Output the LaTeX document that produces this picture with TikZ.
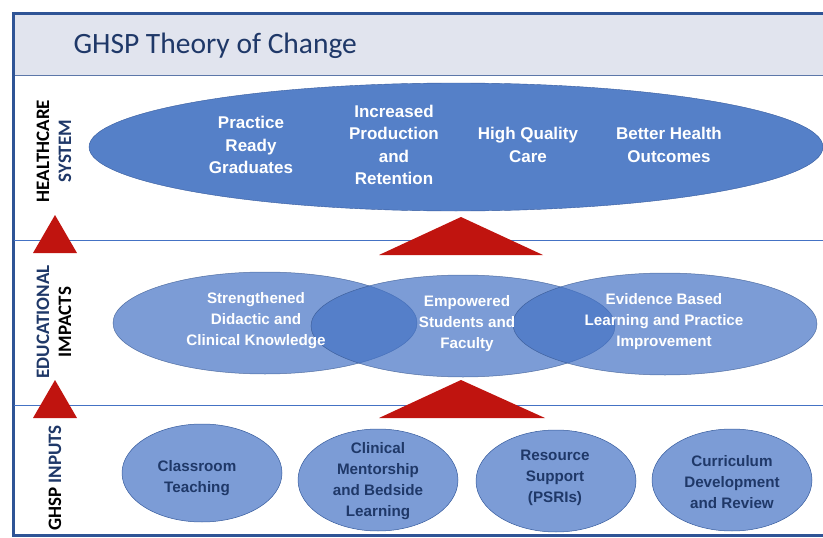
\documentclass[tikz,border=0pt]{standalone}
\usepackage{fontspec}
\setmainfont{Liberation Sans}
\newfontfamily\calibri{Carlito}
\usetikzlibrary{shapes.geometric}

\definecolor{frameblue}{RGB}{47,84,150}
\definecolor{headgray}{RGB}{225,228,238}
\definecolor{navy}{RGB}{31,56,104}
\definecolor{topblue}{RGB}{85,128,200}
\definecolor{midblue}{RGB}{68,114,196}
\definecolor{arrowred}{RGB}{192,20,15}

\tikzstyle{bigoval}=[ellipse, fill=topblue, draw=midblue!80!black, line width=0.4pt, inner sep=0pt]
\tikzstyle{impact}=[ellipse, fill=midblue, fill opacity=0.7, draw=midblue!70!black, draw opacity=0.7, line width=0.5pt, inner sep=0pt, minimum width=304pt, minimum height=102pt]
\tikzstyle{input}=[ellipse, fill=midblue!70, draw=midblue!80!black, line width=0.5pt, inner sep=0pt, minimum width=160pt, minimum height=102pt]
\tikzstyle{outtext}=[text=white, font=\bfseries\fontsize{17}{22.5}\selectfont, align=center]
\tikzstyle{imptext}=[text=white, font=\bfseries\fontsize{15.2}{21}\selectfont, align=center]
\tikzstyle{intext}=[text=navy, font=\bfseries\fontsize{15.2}{21}\selectfont, align=center]
\tikzstyle{sidelabel}=[rotate=90, font=\calibri\bfseries\fontsize{19}{22}\selectfont, align=center]

\begin{document}
\begin{tikzpicture}[x=1pt, y=-1pt]
    \useasboundingbox (0,0) rectangle (823,538);
    % header band
    \fill[headgray] (14,14) rectangle (823,75);
    \draw[line width=1pt, draw=midblue!60!gray] (14,75) -- (823,75);
    \node[anchor=west, text=navy, font=\calibri\fontsize{29.5}{34}\selectfont] (title) at (70,46) {GHSP Theory of Change};
    % frame and rows
    \draw[line width=3pt, frameblue] (823,13) -- (13,13) -- (13,535) -- (823,535);
    \draw[line width=1pt, midblue] (14,240) -- (823,240);
    \draw[line width=1pt, midblue] (14,405) -- (823,405);

    % healthcare system
    \node[bigoval, minimum width=734pt, minimum height=128pt] (e0) at (456,147) {};
    \node[outtext] (t1) at (251,145) {Practice\\Ready\\Graduates};
    \node[outtext] (t2) at (394,145) {Increased\\Production\\and\\Retention};
    \node[outtext] (t3) at (528,145) {High Quality\\Care};
    \node[outtext] (t4) at (669,145) {Better Health\\Outcomes};

    % educational impacts
    \node[impact] (e1) at (265,323) {};
    \node[impact] (e2) at (463,326) {};
    \node[impact] (e3) at (665,324) {};
    \node[imptext] (t5) at (256,321) {Strengthened\\Didactic and\\Clinical Knowledge};
    \node[imptext] (t6) at (467,324) {Empowered\\Students and\\Faculty};
    \node[imptext] (t7) at (664,322) {Evidence Based\\Learning and Practice\\Improvement};

    % ghsp inputs
    \node[input, minimum height=98pt] (e4) at (202,473) {};
    \node[input] (e5) at (378,480) {};
    \node[input] (e6) at (556,481) {};
    \node[input] (e7) at (732,480) {};
    \node[intext] (t8) at (197,478) {Classroom\\Teaching};
    \node[intext] (t9) at (378,481) {Clinical\\Mentorship\\and Bedside\\Learning};
    \node[intext] (t10) at (555,478) {Resource\\Support\\(PSRIs)};
    \node[intext] (t11) at (732,482) {Curriculum\\Development\\and Review};

    % red triangles
    \fill[arrowred] (33,253) -- (55,215) -- (77,253) -- cycle;
    \fill[arrowred] (33,418) -- (55,380) -- (77,418) -- cycle;
    \fill[arrowred] (379,255) -- (461,217) -- (543,255) -- cycle;
    \fill[arrowred] (379,418) -- (461,380) -- (545,418) -- cycle;

    % row labels
    \node[sidelabel] (l1) at (54,151) {HEALTHCARE\\\textcolor{navy}{SYSTEM}};
    \node[sidelabel] (l2) at (54,322) {\textcolor{navy}{EDUCATIONAL}\\IMPACTS};
    \node[sidelabel] (l3) at (55,478) {GHSP \textcolor{navy}{INPUTS}};
\end{tikzpicture}
\end{document}
